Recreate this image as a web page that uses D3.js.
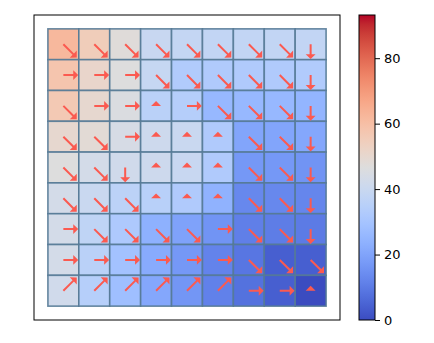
<!DOCTYPE html>
<html>
<head>
<meta charset="utf-8">
<script src="https://cdnjs.cloudflare.com/ajax/libs/d3/7.8.5/d3.min.js"></script>
<style>
  body { margin: 0; background: #fff; }
  svg { display: block; font-family: "DejaVu Sans", sans-serif; }
</style>
</head>
<body>
<div id="chart"></div>
<script>
// value grid (top row first)
var rowValues0 = [62, 55, 47.5, 39.5, 38.5, 38, 38, 38, 38];
var rowValues1 = [58, 51, 46.5, 39, 33, 32.5, 32.5, 32.5, 33];
var rowValues2 = [56.5, 50, 45.5, 35.5, 34, 26, 26, 26, 25];
var rowValues3 = [50, 48.5, 44, 41, 40, 32.5, 20.5, 20.5, 21];
var rowValues4 = [46.5, 43, 42, 41, 39.5, 32.5, 17, 17, 16];
var rowValues5 = [43, 40, 36, 35, 32.5, 24, 13, 13, 12.5];
var rowValues6 = [43, 37, 32, 23.5, 19.5, 16, 11, 10.5, 10];
var rowValues7 = [43, 35.5, 29, 22, 17, 12, 9, 4, 4];
var rowValues8 = [42, 34.5, 28, 21, 16.5, 11.5, 8, 4, 0];
var values = [rowValues0, rowValues1, rowValues2, rowValues3, rowValues4,
              rowValues5, rowValues6, rowValues7, rowValues8];

// policy arrows: R right, D down, DR down-right, UR up-right, S stay
var policy = [
  ["DR", "DR", "DR", "DR", "DR", "DR", "DR", "DR", "D"],
  ["R", "R", "R", "DR", "DR", "DR", "DR", "DR", "D"],
  ["DR", "R", "R", "S", "R", "DR", "DR", "DR", "D"],
  ["DR", "DR", "R", "S", "S", "S", "DR", "DR", "D"],
  ["DR", "DR", "D", "S", "S", "S", "DR", "DR", "D"],
  ["DR", "DR", "DR", "S", "S", "S", "DR", "DR", "D"],
  ["R", "DR", "DR", "DR", "DR", "R", "DR", "DR", "D"],
  ["R", "R", "R", "R", "R", "R", "DR", "DR", "DR"],
  ["UR", "UR", "UR", "UR", "UR", "UR", "R", "R", "S"]
];

var colorTicks = [0, 20, 40, 60, 80];
var vmin = 0, vmax = 93.2;

// coolwarm (Moreland) control points
var cwStops = [
  [59, 76, 192], [68, 90, 204], [77, 104, 215], [87, 117, 225], [98, 130, 234],
  [108, 142, 241], [119, 154, 247], [130, 165, 251], [141, 176, 254], [152, 185, 255],
  [163, 194, 255], [174, 201, 253], [184, 208, 249], [194, 213, 244], [204, 217, 238],
  [213, 219, 230], [221, 221, 221], [229, 216, 209], [236, 211, 197], [241, 204, 185],
  [245, 196, 173], [247, 187, 160], [247, 177, 148], [247, 166, 135], [244, 154, 123],
  [241, 141, 111], [236, 127, 99], [229, 112, 88], [222, 96, 77], [213, 80, 66],
  [203, 62, 56], [192, 40, 47], [180, 4, 38]
].map(function (c) { return d3.rgb(c[0], c[1], c[2]).formatHex(); });
var coolwarm = d3.scaleLinear()
    .domain(cwStops.map(function (d, i) { return i / (cwStops.length - 1); }))
    .range(cwStops)
    .interpolate(d3.interpolateRgb)
    .clamp(true);
var color = function (v) { return coolwarm((v - vmin) / (vmax - vmin)); };

var W = 434, H = 343;
var svg = d3.select("#chart").append("svg").attr("width", W).attr("height", H);

// main axes box
var ax = { x0: 34, x1: 340, y0: 15, y1: 320 };
var x = d3.scaleLinear().domain([-0.95, 8.95]).range([ax.x0, ax.x1]);
var y = d3.scaleLinear().domain([-0.95, 8.95]).range([ax.y0, ax.y1]);
var cw = x(1) - x(0), ch = y(1) - y(0);

var cells = [];
values.forEach(function (row, r) {
  row.forEach(function (v, c) {
    cells.push({ r: r, c: c, v: v, a: policy[r][c] });
  });
});

svg.append("g").selectAll("rect")
  .data(cells)
  .enter().append("rect")
    .attr("x", function (d) { return x(d.c - 0.5); })
    .attr("y", function (d) { return y(d.r - 0.5); })
    .attr("width", cw)
    .attr("height", ch)
    .style("fill", function (d) { return color(d.v); })
    .style("stroke", "#557a96")
    .style("stroke-opacity", 0.9)
    .style("stroke-width", 1.6);

// arrows
var dirs = { R: [1, 0], D: [0, 1], DR: [1, 1], UR: [1, -1], S: [0, 0] };
var L = 0.32, HL = 0.16, HW = 0.32, SW = 0.065;
function arrowPath(d) {
  var cx = x(d.c), cy = y(d.r), v = dirs[d.a];
  if (d.a === "S") {
    // no move: just the head, pointing up
    return "M" + (cx - HW * cw / 2) + "," + cy + "L" + (cx + HW * cw / 2) + "," + cy +
      "L" + cx + "," + (cy - HL * ch) + "Z";
  }
  var dx = v[0] * L * cw, dy = v[1] * L * ch;
  var len = Math.sqrt(dx * dx + dy * dy);
  var ux = dx / len, uy = dy / len, nx = -uy, ny = ux;
  var sw = SW * cw / 2, hw = HW * cw / 2, hl = HL * cw;
  var bx = cx + dx, by = cy + dy;
  var pts = [
    [cx + nx * sw, cy + ny * sw],
    [bx + nx * sw, by + ny * sw],
    [bx + nx * hw, by + ny * hw],
    [bx + ux * hl, by + uy * hl],
    [bx - nx * hw, by - ny * hw],
    [bx - nx * sw, by - ny * sw],
    [cx - nx * sw, cy - ny * sw]
  ];
  return "M" + pts.map(function (p) { return p[0].toFixed(2) + "," + p[1].toFixed(2); }).join("L") + "Z";
}
svg.append("g").selectAll("path")
  .data(cells)
  .enter().append("path")
    .attr("d", arrowPath)
    .style("fill", "#fb5a50");

svg.append("rect")
  .attr("x", ax.x0).attr("y", ax.y0)
  .attr("width", ax.x1 - ax.x0).attr("height", ax.y1 - ax.y0)
  .style("fill", "none").style("stroke", "#000").style("stroke-width", 1);

// colorbar
var cb = { x0: 359, x1: 375, y0: 15, y1: 320 };
var cy = d3.scaleLinear().domain([vmin, vmax]).range([cb.y1, cb.y0]);
var grad = svg.append("defs").append("linearGradient")
  .attr("id", "cbgrad").attr("x1", 0).attr("y1", 1).attr("x2", 0).attr("y2", 0);
grad.selectAll("stop")
  .data(cwStops)
  .enter().append("stop")
    .attr("offset", function (d, i) { return i / (cwStops.length - 1); })
    .attr("stop-color", function (d) { return d; });
svg.append("rect")
  .attr("x", cb.x0).attr("y", cb.y0)
  .attr("width", cb.x1 - cb.x0).attr("height", cb.y1 - cb.y0)
  .style("fill", "url(#cbgrad)")
  .style("stroke", "#000").style("stroke-width", 1);

var cbAxis = d3.axisRight(cy).tickValues(colorTicks).tickSize(5).tickPadding(4);
var g = svg.append("g").attr("transform", "translate(" + cb.x1 + ",0)").call(cbAxis);
g.select(".domain").remove();
g.selectAll("text").style("font-size", "13px").style("font-family", "DejaVu Sans").style("fill", "#000");
g.selectAll("line").style("stroke", "#000");
</script>
</body>
</html>
